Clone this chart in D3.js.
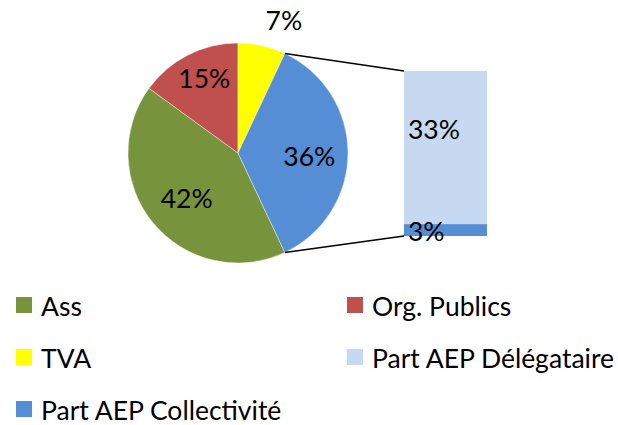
<!DOCTYPE html>
<html>
<head>
<meta charset="utf-8">
<script src="https://cdn.jsdelivr.net/npm/d3@7"></script>
<style>
  html, body { margin: 0; padding: 0; background: #fff; }
  svg { display: block; font-family: Lato, "Open Sans", sans-serif; }
</style>
</head>
<body>
<svg id="chart" width="618" height="425"></svg>
<script>
// ---- data ----
const categories = ["Ass", "Org. Publics", "TVA", "Part AEP Délégataire", "Part AEP Collectivité"];
const values = [42, 15, 7, 33.4, 2.6];          // % of total
const colors = ["#77933C", "#C0504D", "#FFFF00", "#C6D9F1", "#558ED5"];
const pieIdx = [0, 1, 2];        // slices shown in the main pie
const barIdx = [4, 3];           // stacked in the secondary bar (bottom → top)
const otherColor = "#558ED5";

const svg = d3.select("#chart");
const cx = 238, cy = 153, R = 110;
const fontSize = 26.5;

const otherVal = d3.sum(barIdx, i => values[i]);
const pieData = [
  ...pieIdx.map(i => ({ label: values[i], color: colors[i], value: values[i] })),
  { label: otherVal, color: otherColor, value: otherVal, other: true }
];
const total = d3.sum(pieData, d => d.value);

// rotate so the "other" slice is centred on 3 o'clock
const otherAngle = 2 * Math.PI * otherVal / total;
const start = Math.PI / 2 - otherAngle / 2 - 2 * Math.PI * (total - otherVal) / total;

const pie = d3.pie().sort(null).value(d => d.value)
  .startAngle(start).endAngle(start + 2 * Math.PI);
const arcs = pie(pieData);
const arc = d3.arc().innerRadius(0).outerRadius(R);

const g = svg.append("g").attr("transform", `translate(${cx},${cy})`);
g.selectAll("path.slice").data(arcs).join("path")
  .attr("class", "slice")
  .attr("d", arc)
  .attr("fill", d => d.data.color)
  .attr("stroke", "#fff").attr("stroke-width", 0.4);

const fmt = v => Math.round(v) + "%";

// pie labels (best-fit style: small slices outside, others inside)
arcs.forEach(a => {
  const mid = (a.startAngle + a.endAngle) / 2;
  const sx = Math.sin(mid), sy = -Math.cos(mid);
  const frac = a.data.value / total;
  if (frac < 0.1) {
    const r = R * 1.15;
    g.append("text")
      .attr("x", sx * r).attr("y", sy * r)
      .attr("text-anchor", sx >= 0 ? "start" : "end")
      .attr("dominant-baseline", sy < 0 ? "alphabetic" : "hanging")
      .attr("font-size", fontSize).attr("fill", "#000")
      .text(fmt(a.data.label));
  } else {
    const r = R * (0.9 - 0.7 * frac);
    g.append("text")
      .attr("x", sx * r + (frac < 0.2 ? 6 : 0)).attr("y", sy * r)
      .attr("text-anchor", "middle").attr("dy", "0.48em")
      .attr("font-size", fontSize).attr("fill", "#000")
      .text(fmt(a.data.label));
  }
});

// secondary stacked bar
const barX0 = 404, barW = 83, barTop = 71, barBottom = 236;
const y = d3.scaleLinear().domain([0, otherVal]).range([barBottom, barTop]);
let acc = 0;
const segs = barIdx.map(i => { const s = { i, v0: acc, v1: acc + values[i] }; acc += values[i]; return s; });
svg.selectAll("rect.seg").data(segs).join("rect")
  .attr("class", "seg")
  .attr("x", barX0).attr("width", barW)
  .attr("y", d => y(d.v1)).attr("height", d => y(d.v0) - y(d.v1))
  .attr("fill", d => colors[d.i]);
svg.selectAll("text.seglab").data(segs).join("text")
  .attr("class", "seglab")
  .attr("x", barX0 + 4)
  .attr("y", d => y(d.v0 + (d.v1 - d.v0) * 0.64)).attr("dy", "0.48em")
  .attr("font-size", fontSize).attr("fill", "#000")
  .text(d => fmt(values[d.i]));

// connector lines
const otherArc = arcs.find(a => a.data.other);
const p1 = [cx + R * Math.sin(otherArc.startAngle), cy - R * Math.cos(otherArc.startAngle)];
const p2 = [cx + R * Math.sin(otherArc.endAngle), cy - R * Math.cos(otherArc.endAngle)];
svg.append("line").attr("x1", p1[0]).attr("y1", p1[1]).attr("x2", barX0).attr("y2", barTop)
  .attr("stroke", "#000").attr("stroke-width", 1.6);
svg.append("line").attr("x1", p2[0]).attr("y1", p2[1]).attr("x2", barX0).attr("y2", barBottom)
  .attr("stroke", "#000").attr("stroke-width", 1.6);

// legend
const legX = [16, 347], legY0 = 297, legDY = 52, sq = 16;
const leg = svg.selectAll("g.leg").data(categories).join("g")
  .attr("class", "leg")
  .attr("transform", (d, i) => `translate(${legX[i % 2]},${legY0 + Math.floor(i / 2) * legDY})`);
leg.append("rect").attr("width", sq).attr("height", sq).attr("fill", (d, i) => colors[i]);
leg.append("text").attr("x", sq + 9).attr("y", sq + 2.5)
  .attr("font-size", fontSize).attr("fill", "#000")
  .text(d => d);
</script>
</body>
</html>
